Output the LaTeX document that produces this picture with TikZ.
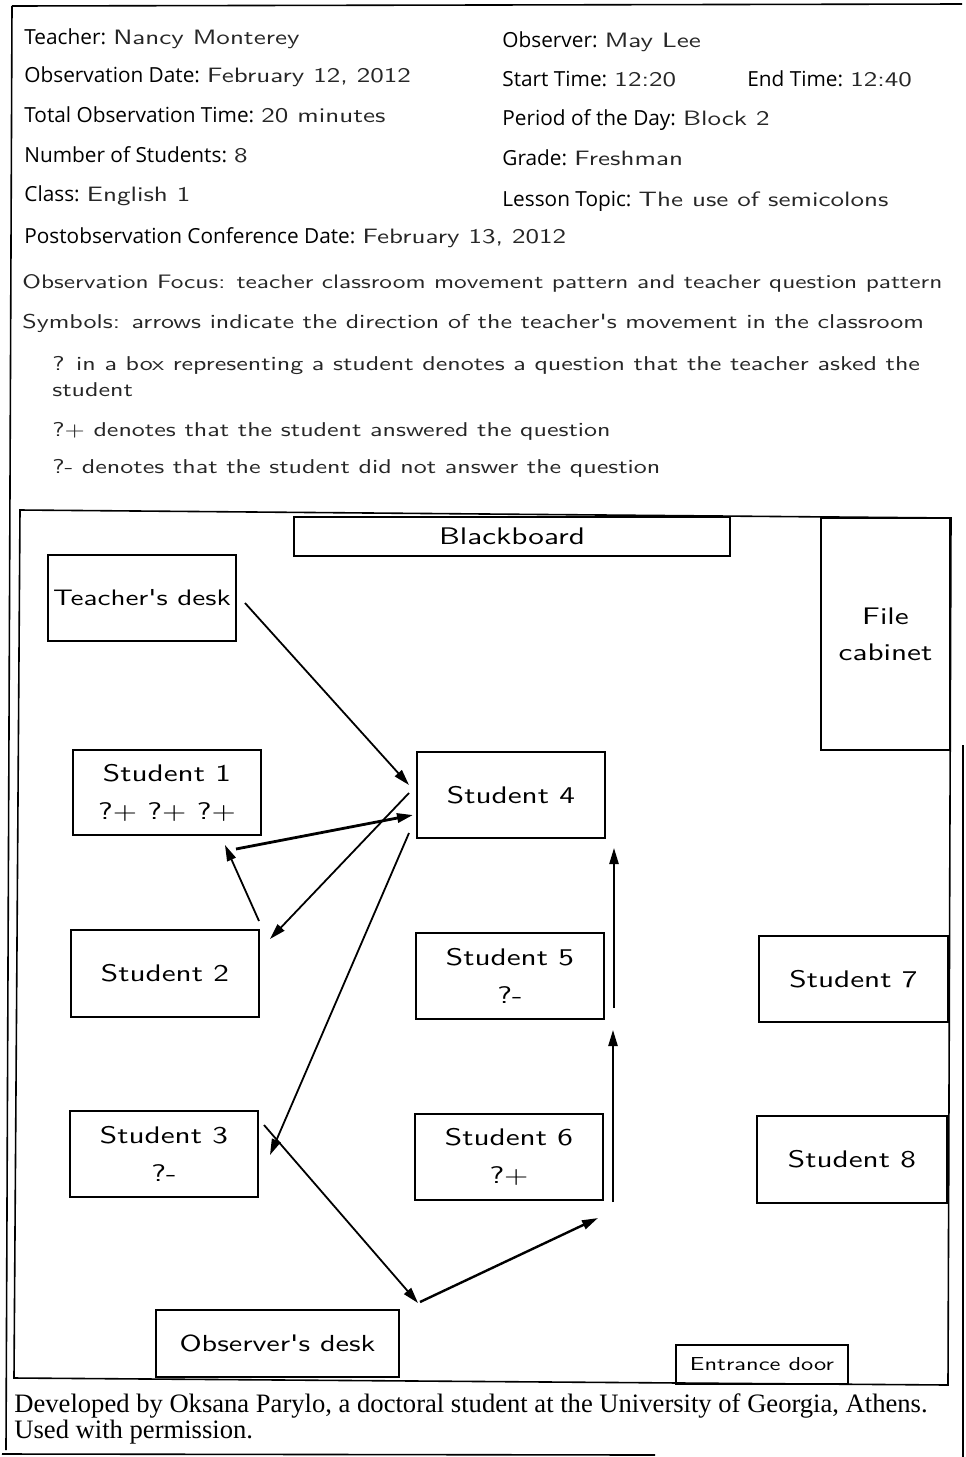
\documentclass[tikz,border=0pt]{standalone}
\usepackage{fontspec}
\usetikzlibrary{arrows.meta}
\newfontfamily\headfont{Open Sans}
\newfontfamily\capfont{Liberation Serif}
\newfontfamily\handfont{lmsans10-regular.otf}[FakeStretch=1.3]
\colorlet{pencil}{black!85}
\begin{document}
\begin{tikzpicture}[x=0.5pt,y=-0.5pt,
  box/.style={draw, line width=0.8pt, inner sep=0pt, align=center,
    font=\handfont\fontsize{12}{14}\selectfont},
  mv/.style={-{Triangle[length=8pt,width=4.6pt]}, line width=0.9pt},
  hd/.style={anchor=base west, inner sep=0pt,
    font=\headfont\fontsize{10.4}{12}\selectfont},
  nt/.style={anchor=base west, inner sep=0pt, text=pencil,
    font=\handfont\fontsize{10}{12}\selectfont},
  credit/.style={anchor=base west, inner sep=0pt,
    font=\capfont\fontsize{13.3}{16}\selectfont},
  frame/.style={line width=0.8pt}]
\useasboundingbox (0,0) rectangle (965,1457);

% page frame
\draw[frame] (12,6) -- (962,4);
\draw[frame] (12,6) -- (6,1450);
\draw[frame] (963,745) -- (963,1457);
\draw[frame] (2,1454) -- (655,1455);

% header fields
\newcommand\val[1]{{\handfont\fontsize{10.4}{12}\selectfont\color{pencil}#1}}
\node[hd] (teacher) at (24,44) {Teacher: \val{Nancy Monterey}};
\node[hd] (odate) at (24,82) {Observation Date: \val{February 12, 2012}};
\node[hd] (total) at (24,122) {Total Observation Time: \val{20 minutes}};
\node[hd] (nstud) at (24,162) {Number of Students: \val{8}};
\node[hd] (class) at (24,201) {Class: \val{English 1}};
\node[hd] (conf) at (24,243) {Postobservation Conference Date: \val{February 13, 2012}};
\node[hd] (observer) at (502,47) {Observer: \val{May Lee}};
\node[hd] (start) at (502,86) {Start Time: \val{12:20}};
\node[hd] (end) at (747,86) {End Time: \val{12:40}};
\node[hd] (period) at (502,125) {Period of the Day: \val{Block 2}};
\node[hd] (grade) at (502,165) {Grade: \val{Freshman}};
\node[hd] (topic) at (502,206) {Lesson Topic: \val{The use of semicolons}};

% observation notes
\node[nt, font=\handfont\fontsize{9.75}{12}\selectfont] (focus) at (22,288) {Observation Focus: teacher classroom movement pattern and teacher question pattern};
\node[nt] (symb) at (22,328) {Symbols: arrows indicate the direction of the teacher's movement in the classroom};
\node[nt] (q1) at (52,370) {? in a box representing a student denotes a question that the teacher asked the};
\node[nt] (q2) at (52,396) {student};
\node[nt] (q3) at (52,436) {?+ denotes that the student answered the question};
\node[nt] (q4) at (52,473) {?- denotes that the student did not answer the question};

% classroom walls
\draw[frame] (20,510) -- (951,518) -- (948,1385) -- (14,1378) -- cycle;

% furniture
\node[box, minimum width=218pt, minimum height=19.5pt] (board) at (512,536.5) {Blackboard};
\node[box, minimum width=94pt, minimum height=43pt, font=\handfont\fontsize{11.2}{13}\selectfont] (tdesk) at (142,598) {Teacher's desk};
\node[box, minimum width=64.5pt, minimum height=116pt] (cab) at (885.5,634) {File\\[4pt]cabinet};
\node[box, minimum width=121.5pt, minimum height=33.5pt, font=\handfont\fontsize{11.6}{13}\selectfont] (odesk) at (277.5,1343.5) {Observer's desk};
\node[box, minimum width=86pt, minimum height=19.5pt, font=\handfont\fontsize{9.4}{11}\selectfont] (door) at (762,1364.5) {Entrance door};

% students
\node[box, minimum width=94pt, minimum height=42.5pt] (s1) at (167,792.5) {Student 1\\[5pt]?+ ?+ ?+};
\node[box, minimum width=94pt, minimum height=43pt] (s4) at (511,795) {Student 4};
\node[box, minimum width=94pt, minimum height=43.5pt] (s2) at (165,973.5) {Student 2};
\node[box, minimum width=94pt, minimum height=43pt] (s5) at (510,976) {Student 5\\[5pt]?-};
\node[box, minimum width=94.5pt, minimum height=43pt] (s7) at (853.5,979) {Student 7};
\node[box, minimum width=94pt, minimum height=43pt] (s3) at (164,1154) {Student 3\\[5pt]?-};
\node[box, minimum width=94pt, minimum height=43pt] (s6) at (509,1157) {Student 6\\[5pt]?+};
\node[box, minimum width=95pt, minimum height=43.5pt] (s8) at (852,1159.5) {Student 8};

% path of the teacher through the room
\coordinate (a1s) at (245,603);  \coordinate (a1e) at (409,785);
\coordinate (a2s) at (409,793);  \coordinate (a2e) at (270,939);
\coordinate (a3s) at (259,921);  \coordinate (a3e) at (225,845);
\coordinate (a4s) at (236,849);  \coordinate (a4e) at (413,815);
\coordinate (a5s) at (409,833);  \coordinate (a5e) at (270,1155);
\coordinate (a6s) at (264,1125); \coordinate (a6e) at (418,1303);
\coordinate (a7s) at (420,1302); \coordinate (a7e) at (598,1218);
\coordinate (a8s) at (613,1202); \coordinate (a8e) at (613,1030);
\coordinate (a9s) at (614,1008); \coordinate (a9e) at (614,848);

\draw[mv] (a1s) -- (a1e);
\draw[mv] (a2s) -- (a2e);
\draw[mv] (a3s) -- (a3e);
\draw[mv, line width=1.4pt] (a4s) -- (a4e);
\draw[mv] (a5s) -- (a5e);
\draw[mv] (a6s) -- (a6e);
\draw[mv, line width=1.2pt] (a7s) -- (a7e);
\draw[mv] (a8s) -- (a8e);
\draw[mv] (a9s) -- (a9e);

% credit line
\node[credit] (cred1) at (14,1412) {Developed by Oksana Parylo, a doctoral student at the University of Georgia, Athens.};
\node[credit] (cred2) at (14,1438) {Used with permission.};
\end{tikzpicture}
\end{document}
